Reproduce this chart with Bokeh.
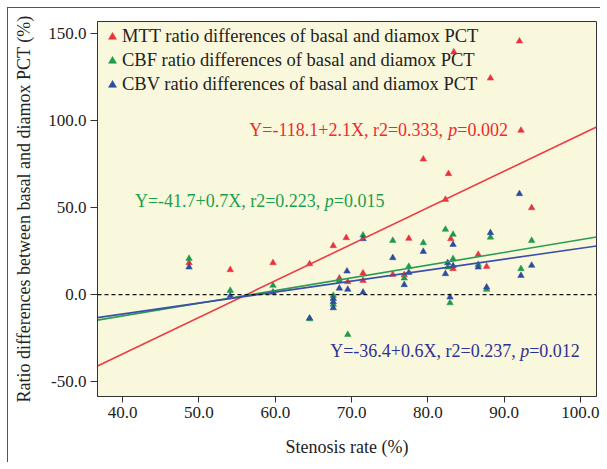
from bokeh.plotting import figure
from bokeh.models import Range1d, FixedTicker, NumeralTickFormatter, Label, Span, Legend, LegendItem
from bokeh.embed import file_html
from bokeh.resources import INLINE

# ---- data ----
mtt_x = [48.7, 54.1, 59.7, 64.5, 67.6, 69.3, 68.4, 69.5, 71.5, 71.5, 75.4, 76.9, 77.5,
         79.4, 82.3, 82.7, 83.4, 83.0, 83.3, 86.6, 87.7, 88.2, 92.0, 92.2, 93.6]
mtt_y = [18.2, 14.2, 18.2, 17.6, 28.0, 32.6, 9.4, 7.3, 12.3, 8.0, 11.5, 11.3, 32.2,
         77.8, 54.6, 69.4, 139.3, 32.0, 14.8, 23.0, 16.1, 124.3, 145.6, 94.3, 49.8]

cbf_x = [48.7, 54.1, 59.7, 64.5, 67.6, 67.6, 68.4, 69.5, 71.5, 75.4, 76.9, 77.5,
         79.4, 82.3, 83.3, 82.6, 83.3, 82.9, 86.6, 87.7, 88.2, 92.2, 93.6]
cbf_y = [20.7, 2.3, 5.2, -14.0, -0.6, -5.7, 8.0, -23.0, 34.1, 31.0, 9.4, 16.1,
         29.7, 37.4, 34.5, 15.7, 20.5, -4.8, 17.2, 2.9, 32.9, 14.8, 31.0]

cbv_x = [48.7, 54.1, 59.7, 64.5, 67.6, 67.6, 67.6, 68.4, 69.4, 69.5, 71.5, 71.5, 75.4,
         76.9, 77.5, 79.4, 83.3, 82.6, 83.3, 82.3, 82.9, 86.6, 87.7, 88.2, 92.0, 92.2, 93.6]
cbv_y = [15.7, -0.8, 1.3, -13.6, -2.3, -4.2, -7.7, 3.6, 13.4, 2.9, 32.0, 1.3, 21.1,
         5.6, 12.6, 24.7, 28.7, 18.2, 16.5, 11.9, -1.5, 15.7, 4.2, 35.5, 57.9, 10.9, 16.7]

series_names = ["MTT ratio differences of basal and diamox PCT",
                "CBF ratio differences of basal and diamox PCT",
                "CBV ratio differences of basal and diamox PCT"]
fit_intercepts = [-118.1, -41.5, -36.4]
fit_slopes = [2.1, 0.73, 0.63]
fit_texts = [
    [("Y=-118.1+2.1X, r2=0.333, ", "normal"), ("p", "italic"), ("=0.002", "normal")],
    [("Y=-41.7+0.7X, r2=0.223, ", "normal"), ("p", "italic"), ("=0.015", "normal")],
    [("Y=-36.4+0.6X, r2=0.237, ", "normal"), ("p", "italic"), ("=0.012", "normal")],
]
fit_text_pos = [(56.6, 94.6), (41.6, 53.6), (67.2, -32.2)]

x_ticks = [40, 50, 60, 70, 80, 90, 100]
y_ticks = [-50, 0, 50, 100, 150]

# ---- styles ----
marker_colors = ["#E8333E", "#1E9A4B", "#2C4C9E"]
line_colors = ["#EC3B45", "#2A9D52", "#3A4FA8"]
text_colors = ["#EE2B2B", "#19A04E", "#2E3192"]
FONT = "Liberation Serif"

p = figure(width=600, height=462, frame_width=499, frame_height=375,
           x_range=Range1d(36.7, 102.1), y_range=Range1d(-58.6, 156.9),
           output_backend="svg", toolbar_location=None,
           min_border_left=97, min_border_right=4, min_border_top=21, min_border_bottom=66)
p.styles = {
    "background": "linear-gradient(#555,#555) 7px 7px / 1px calc(100% - 7px) no-repeat, "
                  "linear-gradient(#555,#555) 7px 7px / calc(100% - 7px) 1px no-repeat, white"
}
p.background_fill_color = "#FAF8DC"
p.border_fill_alpha = 0
p.outline_line_color = "#333333"
p.outline_line_width = 1
p.grid.visible = False

for ax in (p.xaxis[0], p.yaxis[0]):
    ax.axis_line_color = "#333333"
    ax.major_tick_line_color = "#333333"
    ax.minor_tick_line_color = None
    ax.major_tick_in = 0
    ax.major_label_text_font = FONT
    ax.major_label_text_font_size = "17px"
    ax.major_label_text_color = "#222222"
    ax.axis_label_text_font = FONT
    ax.axis_label_text_font_size = "18px"
    ax.axis_label_text_font_style = "normal"
    ax.axis_label_text_color = "#222222"
    ax.formatter = NumeralTickFormatter(format="0.0")

p.xaxis.ticker = FixedTicker(ticks=x_ticks)
p.yaxis.ticker = FixedTicker(ticks=y_ticks)
p.xaxis.major_tick_out = 6
p.yaxis.major_tick_out = 7
p.xaxis.major_label_standoff = 4
p.yaxis.major_label_standoff = 4
p.xaxis.axis_label = "Stenosis rate (%)"
p.yaxis.axis_label = "Ratio differences between basal and diamox PCT (%)"
p.xaxis.axis_label_standoff = 16
p.yaxis.axis_label_standoff = 11

p.add_layout(Span(location=0, dimension="width", line_color="#111111",
                  line_dash="4 3", line_width=1.3))

xs_all = [mtt_x, cbf_x, cbv_x]
ys_all = [mtt_y, cbf_y, cbv_y]
x0, x1 = p.x_range.start, p.x_range.end
renderers = []
for i in range(3):
    r = p.scatter(xs_all[i], ys_all[i], marker="triangle", size=6.5,
                  fill_color=marker_colors[i], line_color=marker_colors[i], line_width=0.5)
    renderers.append(r)
for i in range(3):
    p.line([x0, x1], [fit_intercepts[i] + fit_slopes[i] * x0, fit_intercepts[i] + fit_slopes[i] * x1],
           line_color=line_colors[i], line_width=1.6)

# Times-metric advance widths (per 1000 em) for placing the italic "p"
W = {" ": 250, ",": 250, ".": 250, "-": 333, "+": 564, "=": 564, "Y": 722, "X": 722,
     "r": 333, "p": 500}
def text_width(s, size):
    return sum(W.get(c, 500) for c in s) * size / 1000.0

FS = 18
for i in range(3):
    off = 0.0
    tx, ty = fit_text_pos[i]
    for seg, style in fit_texts[i]:
        p.add_layout(Label(x=tx, y=ty, x_offset=off, text=seg, text_font=FONT,
                           text_font_size=f"{FS}px", text_font_style=style,
                           text_color=text_colors[i], text_align="left",
                           text_baseline="middle"))
        off += text_width(seg, FS)

legend = Legend(items=[LegendItem(label=series_names[i], renderers=[renderers[i]]) for i in range(3)],
                location="top_left", background_fill_alpha=0, border_line_color=None,
                margin=5, padding=4, spacing=3, glyph_width=20, glyph_height=21,
                label_standoff=0, label_text_font=FONT, label_text_font_size="18.5px",
                label_text_color="#222222", label_height=20)
p.add_layout(legend)

open("out.html", "w").write(file_html(p, INLINE))
